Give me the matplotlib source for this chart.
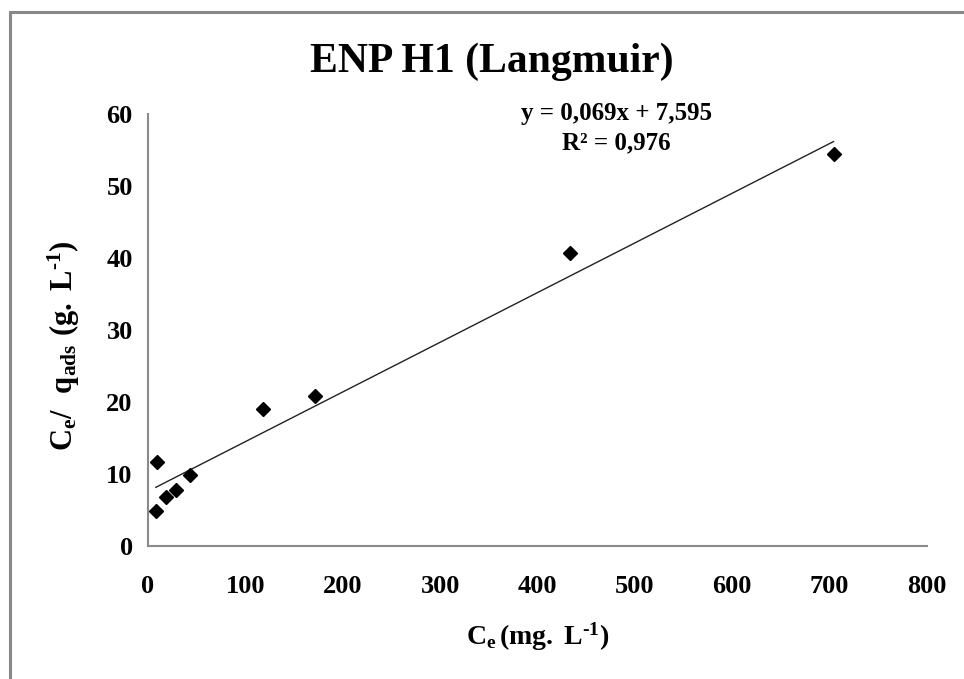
import numpy as np
import matplotlib as mpl
mpl.use('Agg')
import matplotlib.pyplot as plt
from matplotlib.patches import Rectangle

plt.rcParams['font.family'] = ['Liberation Serif', 'DejaVu Serif']
plt.rcParams['font.weight'] = 'bold'
plt.rcParams['mathtext.fontset'] = 'custom'
plt.rcParams['mathtext.rm'] = 'Liberation Serif:bold'
plt.rcParams['mathtext.it'] = 'Liberation Serif:bold'
plt.rcParams['mathtext.bf'] = 'Liberation Serif:bold'

# equilibrium concentration (mg/L) and Ce/q_ads (g/L)
ce = [8, 9, 18.5, 29, 43, 118, 171, 433, 704]
ce_q = [4.9, 11.7, 6.8, 7.8, 9.9, 19.0, 20.8, 40.7, 54.4]

# linear fit reported on the chart
slope = 0.069
intercept = 7.595
r2 = 0.976

xticks = [0, 100, 200, 300, 400, 500, 600, 700, 800]
yticks = [0, 10, 20, 30, 40, 50, 60]


def comma(v):
    return ('%.3f' % v).replace('.', ',')


W, H = 964, 679
fig = plt.figure(figsize=(W / 100, H / 100), dpi=100)
ax = fig.add_axes([148 / W, 1 - 546 / H, (927 - 148) / W, (546 - 114) / H])

ax.plot(ce, ce_q, 'D', color='black', ms=7, zorder=3)
xf = np.array([min(ce), max(ce)])
ax.plot(xf, slope * xf + intercept, color='#222222', lw=1.0)

ax.set_xlim(0, 800)
ax.set_ylim(0, 60)
ax.set_xticks(xticks)
ax.set_yticks(yticks)
ax.tick_params(axis='x', length=0, pad=21, labelsize=19)
ax.tick_params(axis='y', length=0, pad=11, labelsize=19)
for lab in ax.get_xticklabels() + ax.get_yticklabels():
    lab.set_fontweight('bold')
for s in ['top', 'right']:
    ax.spines[s].set_visible(False)
for s in ['left', 'bottom']:
    ax.spines[s].set_color('#8a8a8a')
    ax.spines[s].set_linewidth(1.5)

ax.set_xlabel(r'$\mathrm{C_e\,(mg.\;L^{\text{-}1})}$', fontsize=20, labelpad=16)
ax.set_ylabel(r'$\mathrm{C_e/\ \ q_{ads}\ (g.\;L^{\text{-}1})}$', fontsize=22)
ax.yaxis.set_label_coords(-0.085, 0.463)

# fit equation, centred above the last points
ax.text(481, 60.1, 'y = ' + comma(slope) + 'x + ' + comma(intercept),
        ha='center', va='center', fontsize=18, fontweight='bold', clip_on=False)
ax.text(481, 56.0, 'R² = ' + comma(r2),
        ha='center', va='center', fontsize=18, fontweight='bold', clip_on=False)

fig.text(492 / W, 1 - 62 / H, 'ENP H1 (Langmuir)', ha='center', va='center',
         fontsize=30, fontweight='bold')

# gray frame around the chart area
fig.patches.append(Rectangle((9.5 / W, -0.1), 1.2, 1 - 11.5 / H + 0.1,
                             transform=fig.transFigure, fill=False,
                             edgecolor='#888888', lw=2.2))

fig.savefig('out.png', dpi=100)
